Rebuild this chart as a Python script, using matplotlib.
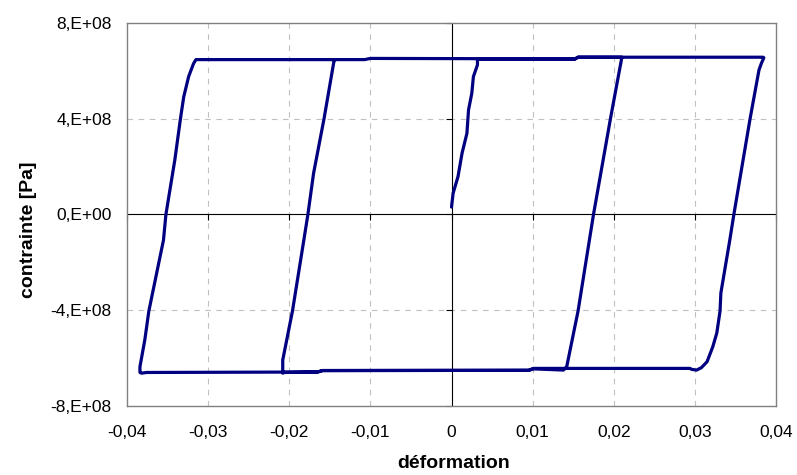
import matplotlib
matplotlib.use("Agg")
import matplotlib.pyplot as plt
from matplotlib.markers import TICKDOWN, TICKLEFT

plt.rcParams['font.family'] = ['Liberation Sans', 'DejaVu Sans']

# cycle contrainte-deformation
deformation = [
    0.0000, 0.0002, 0.0008, 0.0013, 0.0019, 0.0021, 0.0025, 0.0027, 0.0032, 0.0032,
    0.0152, 0.0156, 0.0384, 0.0385,
    0.0382, 0.0379, 0.0368, 0.0348, 0.0343, 0.0332, 0.0331, 0.0327, 0.0322, 0.0315,
    0.0308, 0.0302, 0.0296, 0.0294,
    0.0101, 0.0095, -0.0159, -0.0165, -0.0376, -0.0382, -0.0384,
    -0.0384, -0.0378, -0.0373, -0.0355, -0.0352, -0.0341, -0.0334, -0.0330, -0.0324,
    -0.0318, -0.0315,
    -0.0107, -0.0100, 0.0152, 0.0156, 0.0210,
    0.0196, 0.0175, 0.0156, 0.0142, 0.0138,
    0.0101, 0.0095, -0.0159, -0.0165, -0.0206, -0.0208,
    -0.0208, -0.0196, -0.0182, -0.0177, -0.0170, -0.0157, -0.0145, -0.0144,
]
contrainte = [
    0.31e8, 0.89e8, 1.58e8, 2.56e8, 3.39e8, 4.37e8, 5.06e8, 5.76e8, 6.25e8, 6.48e8,
    6.49e8, 6.57e8, 6.57e8, 6.55e8,
    6.32e8, 6.04e8, 4.0e8, 0.0, -1.07e8, -3.28e8, -4.03e8, -4.95e8, -5.53e8, -6.15e8,
    -6.40e8, -6.50e8, -6.47e8, -6.43e8,
    -6.43e8, -6.51e8, -6.52e8, -6.58e8, -6.60e8, -6.63e8, -6.60e8,
    -6.36e8, -5.24e8, -4.03e8, -1.07e8, 0.0, 2.28e8, 4.02e8, 4.92e8, 5.76e8,
    6.30e8, 6.47e8,
    6.47e8, 6.52e8, 6.50e8, 6.57e8, 6.57e8,
    4.02e8, 0.0, -4.03e8, -6.36e8, -6.50e8,
    -6.45e8, -6.51e8, -6.52e8, -6.58e8, -6.60e8, -6.63e8,
    -6.08e8, -4.03e8, -1.07e8, 0.0, 1.72e8, 4.02e8, 6.38e8, 6.46e8,
]

x_ticks = [-0.04, -0.03, -0.02, -0.01, 0, 0.01, 0.02, 0.03, 0.04]
x_labels = ['-0,04', '-0,03', '-0,02', '-0,01', '0', '0,01', '0,02', '0,03', '0,04']
y_ticks = [-8e8, -4e8, 0, 4e8, 8e8]
y_labels = ['-8,E+08', '-4,E+08', '0,E+00', '4,E+08', '8,E+08']

fig = plt.figure(figsize=(7.97, 4.75), dpi=100)
ax = fig.add_axes([0.1593, 0.1453, 0.8144, 0.8063])

# grille pointillee
for xv in x_ticks[1:-1]:
    if xv != 0:
        ax.axvline(xv, color='#c0c0c0', lw=0.8, ls=(0, (5, 5)), zorder=1)
for yv in y_ticks[1:-1]:
    if yv != 0:
        ax.axhline(yv, color='#c0c0c0', lw=0.8, ls=(0, (5, 5)), zorder=1)

# axes qui se croisent en 0
ax.axhline(0, color='black', lw=0.8, zorder=2)
ax.axvline(0, color='black', lw=0.8, zorder=2)
ax.plot(x_ticks, [0] * len(x_ticks), ls='none', marker=TICKDOWN, ms=4,
        mew=0.8, color='black', zorder=2, clip_on=False)
ax.plot([0] * len(y_ticks), y_ticks, ls='none', marker=TICKLEFT, ms=4,
        mew=0.8, color='black', zorder=2, clip_on=False)

ax.plot(deformation, contrainte, color='#000080', lw=2.3,
        solid_joinstyle='round', solid_capstyle='round', zorder=3)

ax.set_xlim(-0.04, 0.04)
ax.set_ylim(-8e8, 8e8)
ax.set_xticks(x_ticks)
ax.set_xticklabels(x_labels)
ax.set_yticks(y_ticks)
ax.set_yticklabels(y_labels)
ax.tick_params(axis='x', length=0, pad=14, labelsize=12.5)
ax.tick_params(axis='y', length=0, pad=11, labelsize=12.5)

for s in ax.spines.values():
    s.set_color('#808080')
    s.set_linewidth(1.0)

ax.set_xlabel('déformation', fontsize=14, fontweight='bold')
ax.set_ylabel('contrainte [Pa]', fontsize=14, fontweight='bold')
ax.xaxis.set_label_coords(0.503, -0.128)
ax.yaxis.set_label_coords(-0.138, 0.46)

fig.savefig('out.png', dpi=100)
